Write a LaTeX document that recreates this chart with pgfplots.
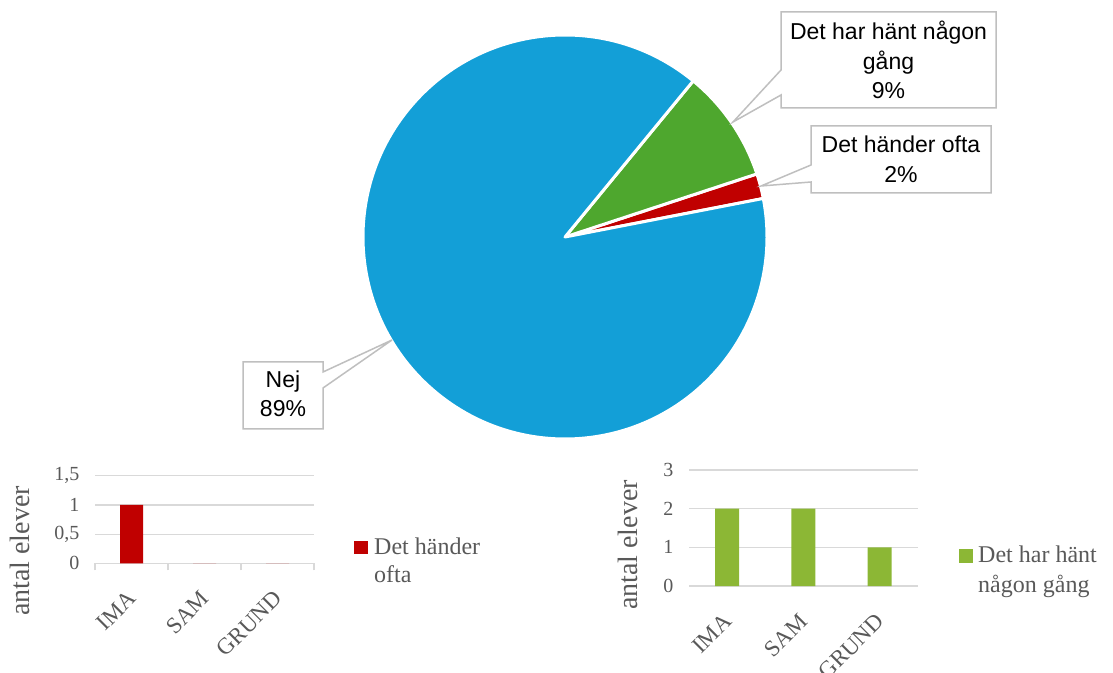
\documentclass[border=0pt]{standalone}
\usepackage{fontspec}
\setmainfont{Liberation Serif}
\newfontfamily\piefont{Liberation Sans}
\usepackage{pgfplots}
\usepackage{pgfplotstable}
\pgfplotsset{compat=1.18}
\definecolor{pieblue}{HTML}{139FD7}
\definecolor{piegreen}{HTML}{4EA72E}
\definecolor{piered}{HTML}{C00000}
\definecolor{bargreen}{HTML}{8CB735}
\definecolor{barred}{HTML}{C00000}
\definecolor{gridgray}{HTML}{D9D9D9}
\definecolor{txtgray}{HTML}{595959}
\definecolor{boxgray}{HTML}{BFBFBF}

\pgfplotstableread{
label pct
ofta 2
hant 9
nej 89
}\piedata
\pgfplotstableread{
cat val
0 1
1 0
2 0
}\ofta
\pgfplotstableread{
cat val
0 2
1 2
2 1
}\hant

\pgfplotstablegetelem{0}{pct}\of\piedata \let\pa\pgfplotsretval
\pgfplotstablegetelem{1}{pct}\of\piedata \let\pb\pgfplotsretval
\pgfplotstablegetelem{2}{pct}\of\piedata \let\pc\pgfplotsretval
\pgfmathsetmacro\aA{11}
\pgfmathsetmacro\aB{\aA+3.6*\pa}
\pgfmathsetmacro\aC{\aB+3.6*\pb}
\pgfmathsetmacro\aD{\aC+3.6*\pc}

\pgfplotsset{
  barax/.style={
    scale only axis,
    xmin=-0.5, xmax=2.5, ymin=0,
    xtick={0,1,2},
    xticklabels={IMA,SAM,GRUND},
    ybar, 
    ymajorgrids,
    grid style={gridgray, line width=1.2pt},
    axis x line*=bottom, axis y line*=left,
    y axis line style={draw=none},
    x axis line style={-, gridgray, line width=1.2pt},
    major tick length=0pt,
    /pgf/number format/use comma,
    /pgf/number format/assume math mode=true,
    yticklabel style={font=\fontsize{20}{20}\selectfont, text=txtgray, xshift=-12pt},
    xticklabel style={font=\fontsize{23}{23}\selectfont, text=txtgray, yshift=-29pt, xshift=3pt, rotate=45, anchor=east},
    ylabel={antal elever},
    ylabel style={font=\fontsize{28}{28}\selectfont, text=txtgray, anchor=center},
  }
}

\begin{document}
\begin{tikzpicture}
\path[use as bounding box] (0pt,0pt) rectangle (1113pt,672pt);

% ---------- pie ----------
\begin{axis}[at={(565pt,435pt)}, anchor=center, scale only axis,
  width=404pt, height=404pt, xmin=-1, xmax=1, ymin=-1, ymax=1,
  hide axis, clip=false]
\fill[piered, draw=white, line width=3pt, line join=round]
  (axis cs:0,0) -- (axis cs:{cos(\aA)},{sin(\aA)}) arc[start angle=\aA, end angle=\aB, radius=202pt] -- cycle;
\fill[piegreen, draw=white, line width=3pt, line join=round]
  (axis cs:0,0) -- (axis cs:{cos(\aB)},{sin(\aB)}) arc[start angle=\aB, end angle=\aC, radius=202pt] -- cycle;
\fill[pieblue, draw=white, line width=3pt, line join=round]
  (axis cs:0,0) -- (axis cs:{cos(\aC)},{sin(\aC)}) arc[start angle=\aC, end angle=\aD, radius=202pt] -- cycle;
\end{axis}

% ---------- bar chart 1 ----------
\begin{axis}[barax, at={(95pt,108.7pt)}, anchor=south west, width=219pt, height=87.6pt,
  ymax=1.5, ytick={0,0.5,1,1.5}, bar width=23pt,
  minor xtick={-0.5,0.5,1.5,2.5},
  minor tick length=7pt, tick align=outside,
  minor x tick style={gridgray, line width=1.2pt},
  ylabel style={at={(axis description cs:-0.342,0.14)}}]
\addplot[fill=barred, draw=none] table[x=cat, y=val]{\ofta};
\end{axis}

% ---------- bar chart 2 ----------
\begin{axis}[barax, at={(689pt,86pt)}, anchor=south west, width=228.7pt, height=116pt,
  ymax=3, ytick={0,1,2,3}, bar width=24pt,
  ylabel style={at={(axis description cs:-0.267,0.353)}}]
\addplot[fill=bargreen, draw=none] table[x=cat, y=val]{\hant};
\end{axis}

\begin{scope}[x=1pt,y=1pt]
% ---------- callouts ----------
\draw[boxgray, line width=1.5pt, fill=white]
  (781,660) -- (996,660) -- (996,564) -- (781,564) -- (781,577) -- (733,550) -- (781,602) -- cycle;
\draw[boxgray, line width=1.5pt, fill=white]
  (811,546) -- (991,546) -- (991,479) -- (811,479) -- (811,490) -- (761,486) -- (811,507) -- cycle;
\draw[boxgray, line width=1.5pt, fill=white]
  (243,310) -- (323,310) -- (323,300) -- (392,332) -- (323,284) -- (323,243) -- (243,243) -- cycle;

\begin{scope}[every node/.style={font=\piefont\fontsize{23}{27}\selectfont, anchor=base, inner sep=0pt}]
\node at (888.5,632.7) {Det har hänt någon};
\node at (888.5,602.7) {gång};
\node at (888.5,573) {9\%};
\node at (901,519.3) {Det händer ofta};
\node at (901,489.3) {2\%};
\node at (283,284.5) {Nej};
\node at (283,255.3) {89\%};
\end{scope}

% ---------- legends ----------
\fill[barred] (354,118) rectangle (368,131);
\node[font=\fontsize{24}{24}\selectfont, text=txtgray, anchor=base west, inner sep=0pt] at (374,117.7) {Det händer};
\node[font=\fontsize{24}{24}\selectfont, text=txtgray, anchor=base west, inner sep=0pt] at (374,89.3) {ofta};
\fill[bargreen] (959,109) rectangle (973,123);
\node[font=\fontsize{24}{24}\selectfont, text=txtgray, anchor=base west, inner sep=0pt] at (978,109.3) {Det har hänt};
\node[font=\fontsize{24}{24}\selectfont, text=txtgray, anchor=base west, inner sep=0pt] at (978,79.3) {någon gång};
\end{scope}
\end{tikzpicture}
\end{document}
